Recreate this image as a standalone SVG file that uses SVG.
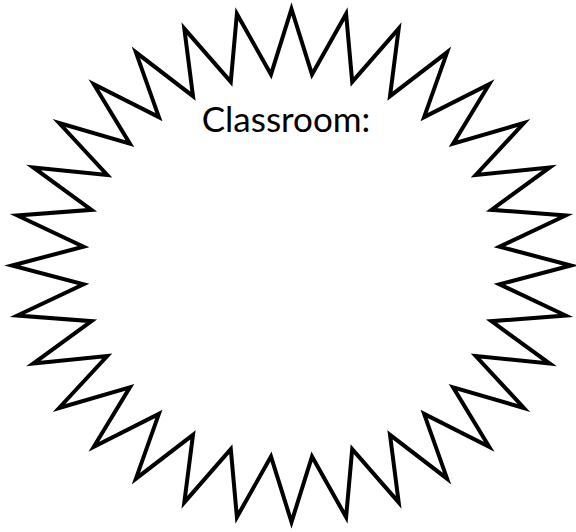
<svg xmlns="http://www.w3.org/2000/svg" width="576" height="532" viewBox="0 0 576 532">
<style>
.burst{fill:#fff;stroke:#000;stroke-width:4;stroke-linejoin:miter;stroke-miterlimit:10}
.lbl{font-family:Lato,"Open Sans","Liberation Sans",sans-serif;font-size:35px;fill:#000}
</style>
<rect width="576" height="532" fill="#fff"/>
<g id="classroom">
<polygon class="burst" points="291.5,9 312.0,74.4 346.1,13.9 352.2,81.8 398.7,28.6 390.0,96.2 447.1,52.3 424.1,117.1 489.2,84.2 453.1,143.7 523.9,123 475.8,175.0 549.7,167.4 491.5,209.8 565.6,215.5 499.5,246.7 571,265.5 499.5,284.3 565.6,315.5 491.5,321.2 549.7,363.6 475.8,356.0 523.9,408 453.1,387.3 489.2,446.8 424.1,413.9 447.1,478.7 390.0,434.8 398.7,502.4 352.2,449.2 346.1,517.1 312.0,456.6 291.5,522 271.0,456.6 236.9,517.1 230.8,449.2 184.3,502.4 193.0,434.8 135.9,478.7 158.9,413.9 93.8,446.8 129.9,387.3 59.1,408 107.2,356.0 33.3,363.6 91.5,321.2 17.4,315.5 83.5,284.3 12,265.5 83.5,246.7 17.4,215.5 91.5,209.8 33.3,167.4 107.2,175.0 59.1,123 129.9,143.7 93.8,84.2 158.9,117.1 135.9,52.3 193.0,96.2 184.3,28.6 230.8,81.8 236.9,13.9 271.0,74.4"/>
<text class="lbl" x="286" y="131.7" text-anchor="middle">Classroom:</text>
</g>
</svg>
